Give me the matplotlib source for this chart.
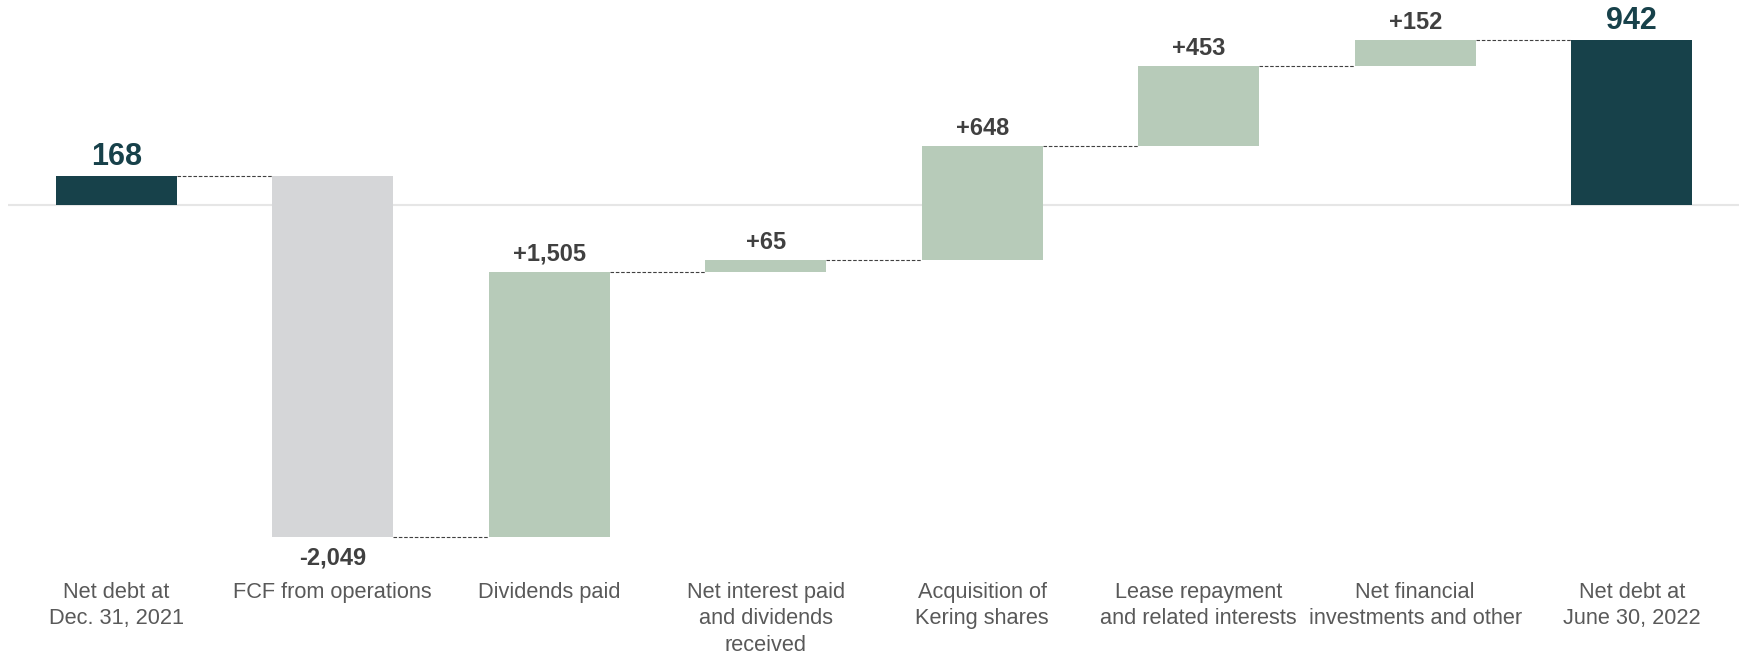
import numpy as np
import matplotlib.pyplot as plt

# Net debt bridge, EUR millions
categories = ["Net debt at\nDec. 31, 2021", "FCF from operations", "Dividends paid",
              "Net interest paid\nand dividends\nreceived", "Acquisition of\nKering shares",
              "Lease repayment\nand related interests", "Net financial\ninvestments and other",
              "Net debt at\nJune 30, 2022"]
opening = 168
changes = [-2049, 1505, 65, 648, 453, 152]
closing = 942

DARK = "#17414A"
GREEN = "#B7CBB9"
GREY = "#D5D6D8"
LABEL = "#404040"

plt.rcParams['font.family'] = ['Liberation Sans', 'DejaVu Sans']

fig = plt.figure(figsize=(17.4, 6.55), dpi=100)
ax = fig.add_axes([8 / 1740, 0.122, 1732 / 1740, 0.8733])

# running level after each step
levels = np.concatenate([[opening], opening + np.cumsum(changes)])
x = np.arange(len(categories))
width = 0.557

bottoms = [0]
heights = [opening]
colors = [DARK]
for i, d in enumerate(changes):
    bottoms.append(levels[i] if d >= 0 else levels[i] + d)
    heights.append(abs(d))
    colors.append(GREEN if d >= 0 else GREY)
bottoms.append(0)
heights.append(closing)
colors.append(DARK)

ax.axhline(0, color="#E6E6E6", lw=1.5, zorder=0)
ax.bar(x, heights, width, bottom=bottoms, color=colors, zorder=2)

# dashed connectors between bars
for i in range(len(categories) - 1):
    lvl = levels[i]
    ax.plot([x[i] + width / 2, x[i + 1] - width / 2], [lvl, lvl],
            color="#404040", lw=0.8, linestyle=(0, (3.2, 1.6)), zorder=3)

# value labels
ax.annotate(f"{opening:,}", (x[0], opening), xytext=(0, 8), textcoords="offset points",
            ha="center", va="baseline", fontsize=22, fontweight="bold", color=DARK)
ax.annotate(f"{closing:,}", (x[-1], closing), xytext=(0, 8), textcoords="offset points",
            ha="center", va="baseline", fontsize=22, fontweight="bold", color=DARK)
for i, d in enumerate(changes):
    xi = x[i + 1]
    if d >= 0:
        ax.annotate(f"+{d:,}", (xi, levels[i + 1]), xytext=(0, 8), textcoords="offset points",
                    ha="center", va="baseline", fontsize=17, fontweight="bold", color=LABEL)
    else:
        ax.annotate(f"{d:,}", (xi, levels[i + 1]), xytext=(0, -7), textcoords="offset points",
                    ha="center", va="top", fontsize=17, fontweight="bold", color=LABEL)

# category labels under the chart
fig_y = 1 - 582 / 655
for xi, cat in zip(x, categories):
    ax.annotate(cat, (xi, fig_y), xycoords=("data", "figure fraction"),
                ha="center", va="top", fontsize=15.7, color="#595959",
                linespacing=1.34, annotation_clip=False)

ax.set_xlim(-0.5, 7.5)
ax.set_ylim(-2100, 1150)
ax.axis("off")

fig.savefig("out.png", dpi=100)
